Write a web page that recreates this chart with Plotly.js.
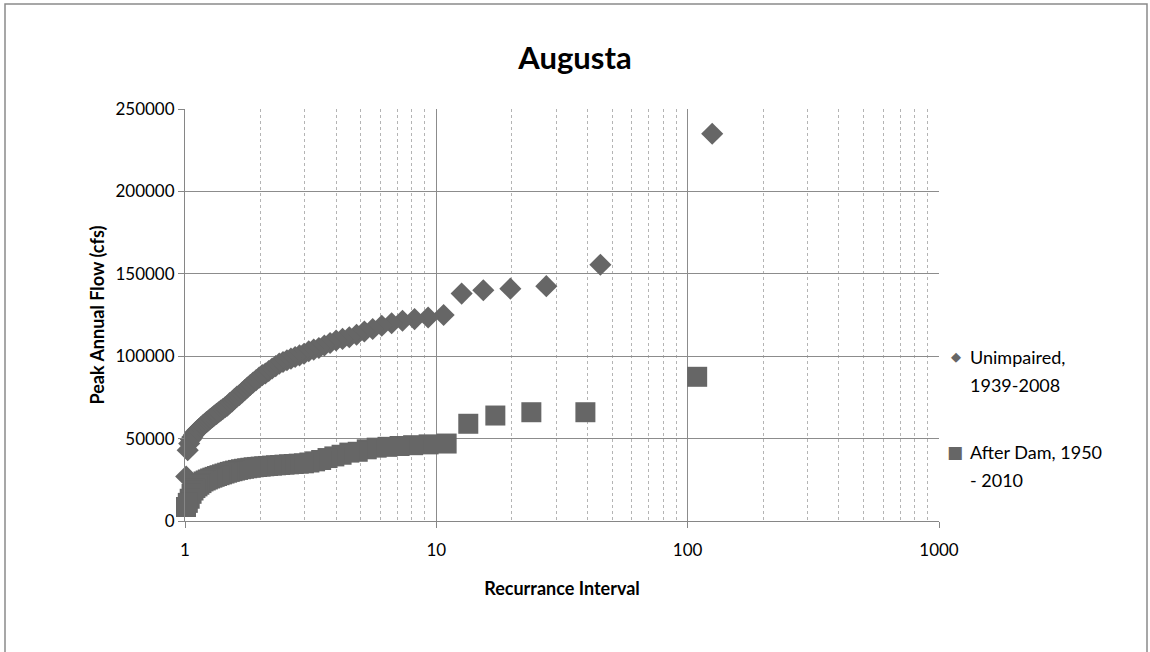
<!DOCTYPE html>
<html>
<head>
<meta charset="utf-8">
<script src="https://cdn.plot.ly/plotly-3.0.1.min.js"></script>
<style>
  html, body { margin: 0; padding: 0; background: #ffffff; }
  #chart { width: 1150px; height: 652px; }
</style>
</head>
<body>
<div id="chart"></div>
<script>
// Peak annual flow vs. recurrence interval, Augusta gauge.

// Unimpaired record, 1939-2008: recurrence interval (years) and peak flow (cfs)
const unimpairedInterval = [
  125.2, 44.95, 27.39, 19.70, 15.38, 12.61, 10.69, 9.275, 8.192, 7.335,
  6.640, 6.066, 5.583, 5.171, 4.816, 4.506, 4.234, 3.993, 3.778, 3.585,
  3.410, 3.252, 3.108, 2.976, 2.855, 2.743, 2.640, 2.544, 2.455, 2.372,
  2.295, 2.222, 2.154, 2.089, 2.029, 1.972, 1.918, 1.867, 1.818, 1.772,
  1.729, 1.687, 1.647, 1.610, 1.573, 1.539, 1.506, 1.474, 1.444, 1.415,
  1.387, 1.360, 1.335, 1.309, 1.285, 1.262, 1.240, 1.218, 1.197, 1.177,
  1.158, 1.139, 1.121, 1.103, 1.087, 1.070, 1.055, 1.039, 1.025, 1.011
];
const unimpairedFlow = [
  235000, 155500, 142500, 141000, 140000, 138000, 125000, 123500, 122500, 121500,
  120000, 118500, 116500, 115000, 113000, 111500, 110500, 109500, 108000, 106500,
  105000, 104000, 103000, 101500, 100500, 99500, 98500, 97500, 96500, 95500,
  94000, 92500, 91000, 89500, 88500, 87000, 85500, 84000, 82500, 81000,
  79500, 78000, 76500, 75500, 74000, 72500, 71500, 70000, 69000, 68000,
  67000, 66000, 65000, 64000, 63000, 62000, 61000, 60000, 59000, 58000,
  57000, 56000, 55000, 54000, 52500, 51000, 49500, 47000, 43000, 27000
];

// After dam construction, 1950-2010
const afterDamInterval = [
  109.1, 39.18, 23.88, 17.17, 13.40, 10.99, 9.317, 8.085, 7.140, 6.393,
  5.788, 5.287, 4.866, 4.507, 4.198, 3.928, 3.691, 3.481, 3.293, 3.125,
  2.973, 2.835, 2.709, 2.594, 2.488, 2.391, 2.301, 2.218, 2.140, 2.067,
  2.000, 1.936, 1.876, 1.820, 1.767, 1.717, 1.670, 1.625, 1.582, 1.545,
  1.507, 1.471, 1.436, 1.403, 1.372, 1.341, 1.312, 1.285, 1.259, 1.233,
  1.209, 1.185, 1.163, 1.141, 1.121, 1.100, 1.081, 1.062, 1.044, 1.026,
  1.009
];
const afterDamFlow = [
  87500, 66000, 66000, 64000, 59000, 47000, 46500, 46000, 45500, 45000,
  44500, 43500, 42000, 41500, 40200, 39200, 38200, 37000, 36200, 35500,
  35000, 34800, 34600, 34400, 34200, 34000, 33800, 33600, 33400, 33200,
  33000, 32800, 32600, 32300, 32000, 31700, 31400, 31000, 30600, 30200,
  29800, 29300, 28800, 28300, 27800, 27300, 26800, 26300, 25800, 25200,
  24600, 24000, 23000, 22000, 21000, 20000, 18500, 16500, 13500, 11000,
  8500
];

const seriesNames = ["Unimpaired,", "1939-2008", "After Dam, 1950", "- 2010"];
const xTickValues = [1, 10, 100, 1000];
const yTickValues = [0, 50000, 100000, 150000, 200000, 250000];

const markerGray = "#666666";
const FONT = "Lato, 'Open Sans', 'DejaVu Sans', sans-serif";

// Plot area in pixels: left 185, right 939, top 109, bottom 521
const PL = 185, PR = 939, PT = 109, PB = 521;
const px = v => (v - PL) / (PR - PL);
const py = v => (PB - v) / (PB - PT);

const traces = [
  {
    type: "scatter", mode: "markers", name: "Unimpaired, 1939-2008",
    x: unimpairedInterval, y: unimpairedFlow,
    marker: { symbol: "diamond", size: 17, color: markerGray },
    showlegend: false, cliponaxis: false
  },
  {
    type: "scatter", mode: "markers", name: "After Dam, 1950 - 2010",
    x: afterDamInterval, y: afterDamFlow,
    marker: { symbol: "square", size: 20, color: markerGray },
    showlegend: false, cliponaxis: false
  }
];

const legendText = (text, yPix) => ({
  xref: "paper", yref: "paper", x: px(968), y: py(yPix),
  xanchor: "left", yanchor: "middle", showarrow: false,
  text: text, font: { family: FONT, size: 18, color: "#000" }
});

const layout = {
  width: 1150, height: 652,
  paper_bgcolor: "#ffffff", plot_bgcolor: "#ffffff",
  margin: { l: PL, r: 1150 - PR, t: PT, b: 652 - PB, pad: 0 },
  showlegend: false,
  title: {
    text: "<b>Augusta</b>",
    x: 0.5, xref: "container", xanchor: "center",
    y: 1 - 58 / 652, yref: "container", yanchor: "middle",
    font: { family: FONT, size: 31, color: "#000" }
  },
  xaxis: {
    type: "log", range: [0, 3],
    tickvals: xTickValues, ticktext: xTickValues.map(String),
    showline: true, linecolor: "#868686", linewidth: 1,
    ticks: "outside", ticklen: 6, tickcolor: "#868686",
    ticklabelstandoff: 8,
    showgrid: true, gridcolor: "#8c8c8c", gridwidth: 1,
    minor: { dtick: "D1", showgrid: true, gridcolor: "#b4b4b4", griddash: "dot", ticks: "" },
    zeroline: false,
    tickfont: { family: FONT, size: 17, color: "#000" },
    title: { text: "<b>Recurrance Interval</b>", standoff: 22,
             font: { family: FONT, size: 18, color: "#000" } }
  },
  yaxis: {
    range: [0, 250000], tickvals: yTickValues, tickformat: "d",
    showline: true, linecolor: "#868686", linewidth: 1,
    ticks: "outside", ticklen: 6, tickcolor: "#868686",
    showgrid: true, gridcolor: "#8c8c8c", gridwidth: 1,
    zeroline: false,
    tickfont: { family: FONT, size: 17, color: "#000" },
    title: { text: "<b>Peak Annual Flow (cfs)</b>", standoff: 6,
             font: { family: FONT, size: 18, color: "#000" } }
  },
  shapes: [
    { type: "rect", xref: "paper", yref: "paper",
      x0: px(5), x1: px(1147), y0: py(700), y1: py(4),
      line: { color: "#8a8a8a", width: 1.5 }, fillcolor: "rgba(0,0,0,0)", layer: "below" }
  ],
  annotations: [
    { xref: "paper", yref: "paper", x: px(956), y: py(356), xanchor: "center", yanchor: "middle",
      showarrow: false, text: "\u25C6", font: { family: "DejaVu Sans", size: 13, color: markerGray } },
    { xref: "paper", yref: "paper", x: px(955), y: py(452), xanchor: "center", yanchor: "middle",
      showarrow: false, text: "\u25A0", font: { family: "DejaVu Sans", size: 17, color: markerGray } },
    legendText(seriesNames[0], 357),
    legendText(seriesNames[1], 385),
    legendText(seriesNames[2], 452),
    legendText(seriesNames[3], 480)
  ]
};

Plotly.newPlot("chart", traces, layout, { displayModeBar: false, staticPlot: true });
</script>
</body>
</html>
